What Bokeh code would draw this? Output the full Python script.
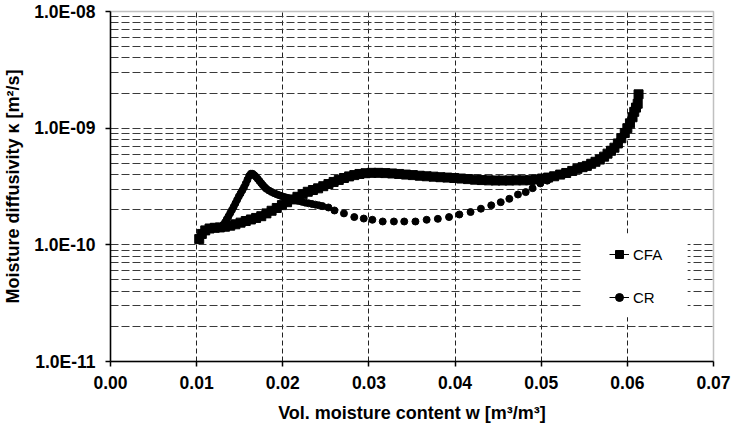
from bokeh.plotting import figure
from bokeh.models import (FixedTicker, CustomJSTickFormatter, NumeralTickFormatter,
                          Legend, LegendItem, BoxAnnotation, Range1d)
from bokeh.embed import file_html
from bokeh.resources import INLINE

# ---------------- data ----------------
cfa_w = [0.0103, 0.0106, 0.0110, 0.0115, 0.0121, 0.0127, 0.0133, 0.0139, 0.0145, 0.0151,
         0.0157, 0.0163, 0.0169, 0.0175, 0.0181, 0.0187, 0.0193, 0.0199, 0.0205, 0.0211,
         0.0217, 0.0223, 0.0229, 0.0235, 0.0241, 0.0247, 0.0253, 0.0259, 0.0265, 0.0271,
         0.0277, 0.0283, 0.0289, 0.0296, 0.0303, 0.0311, 0.0319, 0.0327, 0.0335, 0.0343,
         0.0351, 0.0359, 0.0367, 0.0375, 0.0383, 0.0391, 0.0399, 0.0407, 0.0415, 0.0423,
         0.0431, 0.0439, 0.0447, 0.0455, 0.0463, 0.0471, 0.0479, 0.0487, 0.0494, 0.0501,
         0.0508, 0.0515, 0.0522, 0.0529, 0.0536, 0.0542, 0.0548, 0.0553, 0.0558, 0.0563,
         0.0568, 0.0573, 0.0577, 0.0581, 0.0585, 0.0589, 0.0593, 0.0597, 0.0600, 0.0603,
         0.0606, 0.0608, 0.0610, 0.0612, 0.0613]
cfa_k = [1.12e-10, 1.24e-10, 1.33e-10, 1.38e-10, 1.40e-10, 1.41e-10, 1.43e-10, 1.46e-10, 1.50e-10, 1.55e-10,
         1.60e-10, 1.65e-10, 1.70e-10, 1.76e-10, 1.86e-10, 1.96e-10, 2.07e-10, 2.19e-10, 2.32e-10, 2.45e-10,
         2.58e-10, 2.71e-10, 2.85e-10, 2.95e-10, 3.05e-10, 3.18e-10, 3.32e-10, 3.46e-10, 3.60e-10, 3.74e-10,
         3.86e-10, 3.96e-10, 4.05e-10, 4.11e-10, 4.14e-10, 4.14e-10, 4.12e-10, 4.09e-10, 4.05e-10, 4.00e-10,
         3.96e-10, 3.91e-10, 3.87e-10, 3.84e-10, 3.80e-10, 3.77e-10, 3.74e-10, 3.70e-10, 3.66e-10, 3.62e-10,
         3.59e-10, 3.57e-10, 3.56e-10, 3.56e-10, 3.56e-10, 3.57e-10, 3.57e-10, 3.58e-10, 3.63e-10, 3.70e-10,
         3.77e-10, 3.87e-10, 4.00e-10, 4.13e-10, 4.30e-10, 4.48e-10, 4.63e-10, 4.75e-10, 4.95e-10, 5.15e-10,
         5.38e-10, 5.70e-10, 6.05e-10, 6.40e-10, 6.80e-10, 7.40e-10, 8.20e-10, 9.10e-10, 1.00e-9, 1.10e-9,
         1.24e-9, 1.38e-9, 1.50e-9, 1.62e-9, 1.95e-9]

cr_w = [0.0103, 0.0105, 0.0108, 0.0112, 0.0117, 0.0122, 0.0127, 0.0129, 0.0131, 0.0133,
        0.0135, 0.0137, 0.0139, 0.0141, 0.0143, 0.0145, 0.0147, 0.0149, 0.0151, 0.0153,
        0.0155, 0.0157, 0.0159, 0.0161, 0.0163, 0.0165, 0.0167, 0.0169, 0.0171, 0.0173,
        0.0175, 0.0177, 0.0179, 0.0181, 0.0184, 0.0187, 0.0190, 0.0193, 0.0196, 0.0199,
        0.0202, 0.0205, 0.0208, 0.0211, 0.0214, 0.0218, 0.0222, 0.0226, 0.0230, 0.0234,
        0.0238, 0.0242, 0.0246, 0.0253, 0.0260, 0.0271, 0.0283, 0.0294, 0.0304, 0.0316,
        0.0329, 0.0341, 0.0354, 0.0367, 0.0380, 0.0393, 0.0405, 0.0418, 0.0430, 0.0442,
        0.0453, 0.0463, 0.0473, 0.0482, 0.0490, 0.0499, 0.0507]
cr_k = [1.10e-10, 1.20e-10, 1.28e-10, 1.34e-10, 1.38e-10, 1.40e-10, 1.42e-10, 1.43e-10, 1.48e-10, 1.56e-10,
        1.66e-10, 1.76e-10, 1.87e-10, 1.99e-10, 2.12e-10, 2.27e-10, 2.43e-10, 2.60e-10, 2.76e-10, 2.93e-10,
        3.12e-10, 3.35e-10, 3.62e-10, 3.90e-10, 4.07e-10, 4.06e-10, 3.95e-10, 3.82e-10, 3.67e-10, 3.52e-10,
        3.38e-10, 3.24e-10, 3.12e-10, 3.02e-10, 2.92e-10, 2.84e-10, 2.77e-10, 2.71e-10, 2.66e-10, 2.61e-10,
        2.57e-10, 2.53e-10, 2.49e-10, 2.46e-10, 2.43e-10, 2.38e-10, 2.34e-10, 2.30e-10, 2.27e-10, 2.24e-10,
        2.21e-10, 2.18e-10, 2.15e-10, 2.09e-10, 1.97e-10, 1.86e-10, 1.73e-10, 1.68e-10, 1.64e-10, 1.585e-10,
        1.585e-10, 1.585e-10, 1.585e-10, 1.64e-10, 1.67e-10, 1.73e-10, 1.82e-10, 1.91e-10, 2.04e-10, 2.18e-10,
        2.32e-10, 2.48e-10, 2.70e-10, 2.83e-10, 3.06e-10, 3.36e-10, 3.55e-10]

x_ticks = [0.0, 0.01, 0.02, 0.03, 0.04, 0.05, 0.06, 0.07]
y_ticks = [1e-11, 1e-10, 1e-9, 1e-8]
series_labels = ["CFA", "CR"]
x_title = "Vol. moisture content w [m\u00b3/m\u00b3]"
y_title = "Moisture diffusivity \u03ba [m\u00b2/s]"

# legend background box (data coords)
legend_box = dict(left=0.0548, right=0.0670, bottom=2.39e-11, top=1.25e-10)

FONT = "Liberation Sans"
NAN = float("nan")

p = figure(width=731, height=431,
           x_range=Range1d(0, 0.07), y_range=Range1d(1e-11, 1e-8),
           y_axis_type="log", output_backend="svg", toolbar_location=None,
           min_border_left=109, min_border_right=18, min_border_top=11, min_border_bottom=70,
           styles={"position": "absolute", "left": "0px", "top": "0px"})

p.background_fill_color = "white"
p.border_fill_color = "white"
p.outline_line_color = "#c0c0c0"
p.outline_line_width = 1.5

minor = [m * t for t in y_ticks[:-1] for m in range(2, 10)]
yticker = FixedTicker(ticks=y_ticks, minor_ticks=minor)
xticker = FixedTicker(ticks=x_ticks)

p.xaxis.ticker = xticker
p.yaxis.ticker = yticker
p.xaxis.formatter = NumeralTickFormatter(format="0.00")
p.yaxis.formatter = CustomJSTickFormatter(code="""
    let s = tick.toExponential(1).toUpperCase();
    return s.replace(/E([+-])(\\d)$/, 'E$10$2');
""")

for ax in (p.xaxis[0], p.yaxis[0]):
    ax.axis_line_color = "black"
    ax.axis_line_width = 1.5
    ax.major_tick_line_color = "black"
    ax.major_tick_line_width = 1.5
    ax.major_tick_out = 5
    ax.major_tick_in = 0
    ax.minor_tick_line_color = None
    ax.major_label_text_font = FONT
    ax.major_label_text_font_style = "bold"
    ax.major_label_text_font_size = "17.5px"
    ax.major_label_text_color = "black"
    ax.axis_label_text_font = FONT
    ax.axis_label_text_font_style = "bold"
    ax.axis_label_text_font_size = "18px"
    ax.axis_label_text_color = "black"

p.xaxis.axis_label = x_title
p.yaxis.axis_label = y_title
p.xaxis.major_label_standoff = 9
p.yaxis.major_label_standoff = 10
p.xaxis.axis_label_standoff = 11
p.yaxis.axis_label_standoff = 8

p.xgrid.ticker = xticker
p.ygrid.ticker = yticker
p.xgrid.grid_line_color = "#222222"
p.xgrid.grid_line_dash = "5 3"
p.xgrid.grid_line_width = 1
p.ygrid.grid_line_color = "#3a3a3a"
p.ygrid.grid_line_dash = "8 3"
p.ygrid.grid_line_width = 1
p.ygrid.minor_grid_line_color = "#3a3a3a"
p.ygrid.minor_grid_line_dash = "8 3"
p.ygrid.minor_grid_line_width = 1

# series
p.scatter(cr_w, cr_k, marker="circle", size=7, color="black")
p.line(cfa_w, cfa_k, line_width=8, color="black", line_join="round", line_cap="round")
p.scatter(cfa_w, cfa_k, marker="square", size=9, color="black")

# white legend area
p.add_layout(BoxAnnotation(fill_color="white", fill_alpha=1.0, line_color=None, **legend_box))

# legend proxies (no visible data)
l1 = p.line(x=[NAN], y=[NAN], line_color="black", line_width=1)
m1 = p.scatter(x=[NAN], y=[NAN], marker="square", size=8, color="black")
l2 = p.line(x=[NAN], y=[NAN], line_color="black", line_width=1)
m2 = p.scatter(x=[NAN], y=[NAN], marker="circle", size=7, color="black")

legend = Legend(items=[LegendItem(label=series_labels[0], renderers=[l1, m1]),
                       LegendItem(label=series_labels[1], renderers=[l2, m2])],
                location=(499, 54), margin=0, padding=0, spacing=23,
                glyph_width=20, glyph_height=20, label_height=20, label_standoff=4,
                background_fill_alpha=0.0, border_line_alpha=0.0,
                label_text_font=FONT, label_text_font_size="15px", label_text_color="black")
p.add_layout(legend)

open("out.html", "w").write(file_html(p, INLINE))
